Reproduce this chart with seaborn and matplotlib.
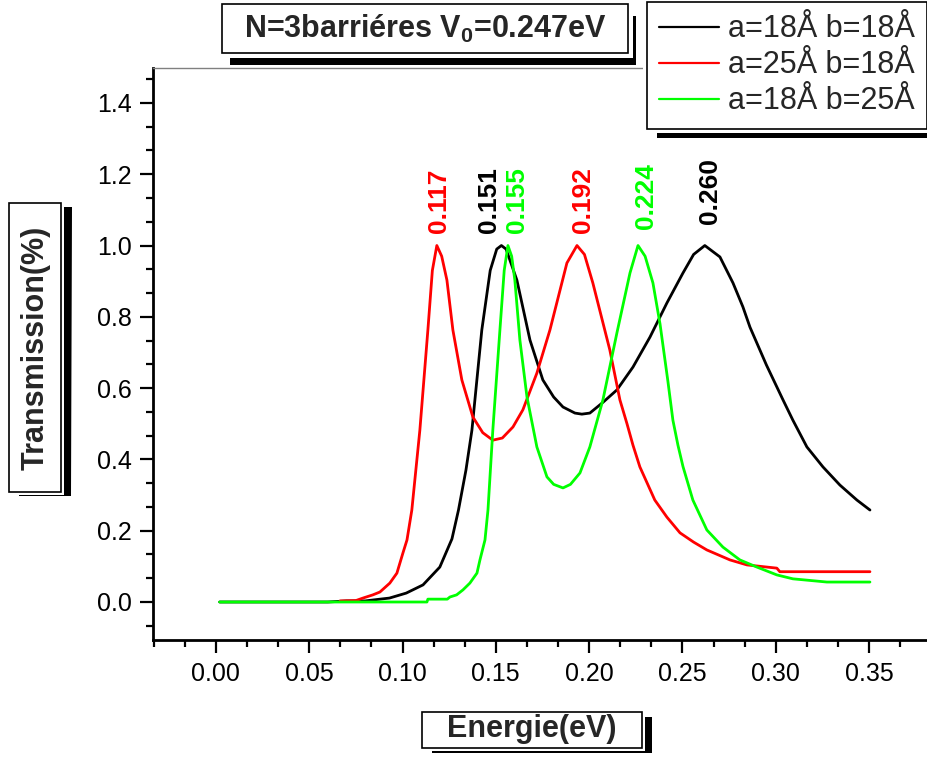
import numpy as np
import pandas as pd
import matplotlib
matplotlib.use("Agg")
import matplotlib.pyplot as plt
import matplotlib.patheffects as pe
from matplotlib.path import Path
from matplotlib.ticker import AutoMinorLocator
import seaborn as sns

# ---------------- data ----------------
series_names = ["a=18Å b=18Å", "a=25Å b=18Å", "a=18Å b=25Å"]
series_colors = ["#000000", "#ff0000", "#00ff00"]

energy_18_18 = [0.002, 0.060, 0.070, 0.080, 0.088, 0.093, 0.102, 0.111, 0.120, 0.1265,
                0.130, 0.134, 0.1372, 0.1425, 0.147, 0.1505, 0.153, 0.1555, 0.1613, 0.1683,
                0.1752, 0.181, 0.186, 0.1924, 0.1961, 0.2004, 0.2074, 0.2149, 0.2235, 0.2326,
                0.2417, 0.2503, 0.2560, 0.2620, 0.2701, 0.2771, 0.2824, 0.2862, 0.2950, 0.3039,
                0.3092, 0.3167, 0.3253, 0.3344, 0.3435, 0.3505]
trans_18_18 = [0.0, 0.0, 0.003, 0.003, 0.008, 0.011, 0.025, 0.048, 0.098, 0.177,
               0.258, 0.37, 0.482, 0.763, 0.93, 0.99, 1.0, 0.99, 0.903, 0.735,
               0.623, 0.575, 0.547, 0.53, 0.527, 0.53, 0.56, 0.595, 0.659, 0.743,
               0.839, 0.923, 0.975, 1.0, 0.968, 0.895, 0.828, 0.771, 0.665, 0.567,
               0.51, 0.435, 0.379, 0.328, 0.286, 0.258]

energy_25_18 = [0.0665, 0.075, 0.0788, 0.0841, 0.0879, 0.0932, 0.097, 0.1002, 0.1024,
                0.105, 0.1093, 0.1136, 0.116, 0.1184, 0.121, 0.1238, 0.127, 0.1318, 0.1377,
                0.143, 0.1484, 0.1535, 0.1592, 0.1645, 0.172, 0.179, 0.1881, 0.1935, 0.1975,
                0.202, 0.2111, 0.2165, 0.2203, 0.2235, 0.2272, 0.2352, 0.2417, 0.2487, 0.2560,
                0.2631, 0.2755, 0.2846, 0.3006, 0.3022, 0.3505]
trans_25_18 = [0.003, 0.004, 0.011, 0.02, 0.028, 0.053, 0.081, 0.137, 0.174,
               0.258, 0.482, 0.763, 0.93, 1.0, 0.97, 0.903, 0.763, 0.623, 0.519,
               0.475, 0.454, 0.46, 0.491, 0.539, 0.642, 0.763, 0.951, 1.0, 0.975,
               0.895, 0.707, 0.567, 0.50, 0.44, 0.379, 0.286, 0.238, 0.194, 0.168,
               0.146, 0.118, 0.104, 0.095, 0.085, 0.085]

energy_18_25 = [0.002, 0.1131, 0.1136, 0.124, 0.1254, 0.129, 0.1324, 0.1361, 0.1399, 0.1415,
                0.1442, 0.1458, 0.1484, 0.1522, 0.1545, 0.1565, 0.1585, 0.1602, 0.1629, 0.1667,
                0.172, 0.1774, 0.181, 0.186, 0.190, 0.1951, 0.2004, 0.2074, 0.2149, 0.2219,
                0.2262, 0.2300, 0.2342, 0.238, 0.2422, 0.2449, 0.2476, 0.2503, 0.2556, 0.2631,
                0.2717, 0.2808, 0.2899, 0.3006, 0.3092, 0.3274, 0.3505]
trans_18_25 = [0.0, 0.0, 0.008, 0.008, 0.014, 0.02, 0.034, 0.053, 0.081, 0.118,
               0.174, 0.258, 0.482, 0.763, 0.93, 1.0, 0.97, 0.903, 0.735, 0.575,
               0.435, 0.351, 0.33, 0.32, 0.33, 0.362, 0.435, 0.567, 0.755, 0.923,
               1.0, 0.97, 0.895, 0.78, 0.62, 0.51, 0.44, 0.38, 0.286, 0.202,
               0.154, 0.118, 0.098, 0.076, 0.065, 0.056, 0.056]

peak_labels = ["0.117", "0.151", "0.155", "0.192", "0.224", "0.260"]
peak_label_x = [0.1195, 0.1463, 0.1613, 0.1967, 0.2304, 0.2647]
peak_label_y = [1.035, 1.035, 1.035, 1.035, 1.045, 1.06]
peak_label_colors = ["#ff0000", "#000000", "#00ff00", "#ff0000", "#00ff00", "#000000"]

x_ticks = [0.00, 0.05, 0.10, 0.15, 0.20, 0.25, 0.30, 0.35]
y_ticks = [0.0, 0.2, 0.4, 0.6, 0.8, 1.0, 1.2, 1.4]

title_text = "N=3barriéres V$_0$=0.247eV"
x_label = "Energie(eV)"
y_label = "Transmission(%)"

# ---------------- style ----------------
sns.set_theme(style="white")
plt.rcParams["font.family"] = ["Liberation Sans", "DejaVu Sans"]
plt.rcParams["mathtext.default"] = "regular"

W, H = 928, 762
PT = 72 / 100  # points per pixel
fig = plt.figure(figsize=(W / 100, H / 100), dpi=100)
ax = fig.add_axes([153 / W, 1 - 640 / H, (W - 153) / W, (640 - 68) / H])

df = pd.concat([
    pd.DataFrame({"E": energy_18_18, "T": trans_18_18, "series": series_names[0]}),
    pd.DataFrame({"E": energy_25_18, "T": trans_25_18, "series": series_names[1]}),
    pd.DataFrame({"E": energy_18_25, "T": trans_18_25, "series": series_names[2]}),
], ignore_index=True)

sns.lineplot(data=df, x="E", y="T", hue="series", hue_order=series_names,
             palette=dict(zip(series_names, series_colors)), sort=False,
             estimator=None, linewidth=2.0, legend=False, ax=ax)

ax.set_xlim(-0.0337, 0.3816)
ax.set_ylim(-0.1066, 1.498)
ax.set_xticks(x_ticks)
ax.set_xticklabels([f"{v:.2f}" for v in x_ticks])
ax.set_yticks(y_ticks)
ax.set_yticklabels([f"{v:.1f}" for v in y_ticks])
ax.xaxis.set_minor_locator(AutoMinorLocator(3))
ax.yaxis.set_minor_locator(AutoMinorLocator(3))
ax.tick_params(which="major", direction="out", length=9.5, width=1.6, labelsize=18,
               pad=6, color="black", labelcolor="black", left=True, bottom=True)
ax.tick_params(which="minor", direction="out", length=5, width=1.6, color="black",
               left=True, bottom=True)

for s in ["left", "bottom"]:
    ax.spines[s].set_linewidth(2.0)
    ax.spines[s].set_color("black")
ax.spines["top"].set_linewidth(1.0)
ax.spines["top"].set_color("#808080")
ax.spines["right"].set_visible(False)


def padded_box(padx, pady):
    """Rectangular box style with separate horizontal / vertical padding (pixels)."""
    def style(x0, y0, width, height, mutation_size):
        x0, y0 = x0 - padx, y0 - pady
        x1, y1 = x0 + width + 2 * padx, y0 + height + 2 * pady
        return Path([(x0, y0), (x1, y0), (x1, y1), (x0, y1), (x0, y0)],
                    [Path.MOVETO, Path.LINETO, Path.LINETO, Path.LINETO, Path.CLOSEPOLY])
    return style


def box_shadow(patch, offx, offy, gap):
    patch.set_path_effects([
        pe.SimplePatchShadow(offset=(offx * PT, -offy * PT), shadow_rgbFace="black", alpha=1.0),
        pe.Stroke(linewidth=2 * gap * PT, foreground="white"),
        pe.Normal(),
    ])


def box_kw(padx, pady):
    return dict(boxstyle=padded_box(padx, pady), fc="white", ec="black", lw=1.2)


# peak annotations
for s, x, y, c in zip(peak_labels, peak_label_x, peak_label_y, peak_label_colors):
    ax.text(x, y, s, rotation=90, ha="center", va="bottom", color=c,
            fontsize=19, fontweight="bold")

# axis labels in boxes
ax.set_xlabel(x_label, fontsize=22, fontweight="bold", bbox=box_kw(25, 3))
ax.xaxis.set_label_coords((532 - 153) / (W - 153), (640 - 729.5) / (640 - 68))
ax.xaxis.label.set_va("center")
ax.set_ylabel(y_label, fontsize=22, fontweight="bold", bbox=box_kw(22, 11))
ax.yaxis.set_label_coords((35.5 - 153) / (W - 153), (640 - 347.5) / (640 - 68))
ax.yaxis.label.set_va("center")
ax.yaxis.label.set_ha("center")

# title box
title = fig.text(425 / W, 1 - 28.5 / H, title_text, ha="center", va="center",
                 fontsize=22, fontweight="bold", bbox=box_kw(22, 8))

# legend
leg = fig.legend(handles=ax.get_lines()[:3], labels=series_names, loc="upper right",
                 bbox_to_anchor=(927 / W, 1 - 2 / H), frameon=True, fancybox=False,
                 framealpha=1, edgecolor="black", fontsize=22, handlelength=1.95,
                 handletextpad=0.3, labelspacing=0.2, borderpad=0.4, borderaxespad=0)
leg.get_frame().set_linewidth(1.2)
for h in leg.legend_handles:
    h.set_linewidth(1.6)

fig.canvas.draw()
box_shadow(ax.xaxis.label.get_bbox_patch(), 10, 5, 3)
box_shadow(ax.yaxis.label.get_bbox_patch(), 10, 4, 3)
box_shadow(title.get_bbox_patch(), 8, 12, 5)
box_shadow(leg.get_frame(), 10, 9, 4)

fig.savefig("out.png", dpi=100, facecolor="white")
